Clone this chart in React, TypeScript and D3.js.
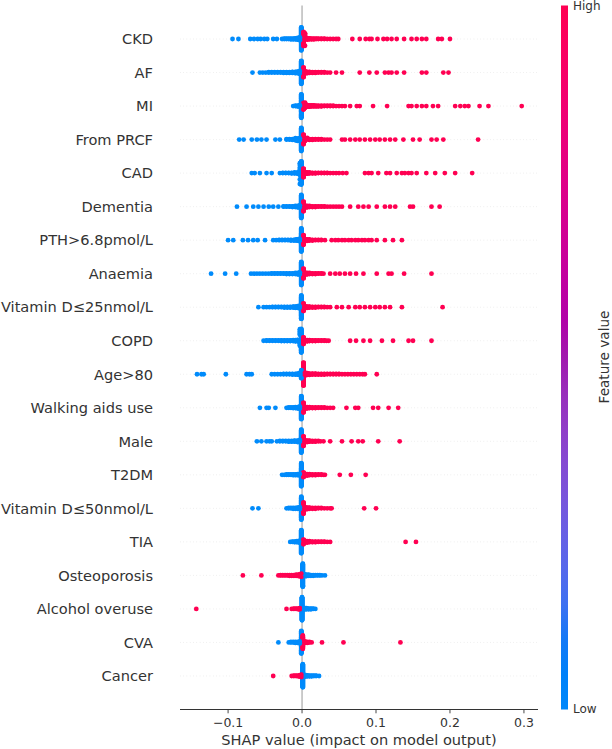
import React from "react";
import * as d3 from "d3";

// SHAP summary (beeswarm) plot: feature order top to bottom
const features = [
  "CKD", "AF", "MI", "From PRCF", "CAD", "Dementia", "PTH>6.8pmol/L", "Anaemia",
  "Vitamin D≤25nmol/L", "COPD", "Age>80", "Walking aids use", "Male", "T2DM",
  "Vitamin D≤50nmol/L", "TIA", "Osteoporosis", "Alcohol overuse", "CVA", "Cancer",
];

// [shap value, number of samples] for low feature value (blue)
const lowPoints: [number, number][][] = [
  [[-0.094,1],[-0.086,1],[-0.070,1],[-0.065,1],[-0.060,1],[-0.056,1],[-0.051,1],[-0.047,1],[-0.039,1],[-0.034,1],[-0.027,1],[-0.024,2],[-0.021,2],[-0.018,2],[-0.015,3],[-0.012,3],[-0.009,4],[-0.006,6],[-0.003,10],[-0.001,70]],
  [[-0.067,1],[-0.057,1],[-0.053,1],[-0.049,1],[-0.045,2],[-0.041,2],[-0.037,2],[-0.033,2],[-0.029,2],[-0.025,3],[-0.021,3],[-0.017,3],[-0.013,4],[-0.009,5],[-0.006,6],[-0.003,10],[-0.001,70]],
  [[-0.012,1],[-0.009,2],[-0.006,3],[-0.003,6],[-0.001,75]],
  [[-0.085,1],[-0.079,1],[-0.068,1],[-0.061,1],[-0.055,1],[-0.048,1],[-0.036,1],[-0.030,1],[-0.021,2],[-0.017,2],[-0.013,3],[-0.009,4],[-0.006,5],[-0.003,8],[-0.001,70]],
  [[-0.068,1],[-0.064,1],[-0.057,1],[-0.048,1],[-0.041,1],[-0.030,1],[-0.026,2],[-0.022,2],[-0.018,2],[-0.014,3],[-0.010,4],[-0.006,5],[-0.003,8],[-0.001,70]],
  [[-0.088,1],[-0.075,1],[-0.066,1],[-0.059,1],[-0.052,1],[-0.045,1],[-0.039,1],[-0.032,1],[-0.025,2],[-0.021,2],[-0.017,2],[-0.013,3],[-0.009,4],[-0.006,5],[-0.003,8],[-0.001,70]],
  [[-0.100,1],[-0.093,1],[-0.080,1],[-0.073,1],[-0.066,1],[-0.060,1],[-0.050,1],[-0.039,1],[-0.035,1],[-0.031,2],[-0.027,2],[-0.023,2],[-0.019,2],[-0.015,3],[-0.011,3],[-0.008,4],[-0.005,6],[-0.003,8],[-0.001,70]],
  [[-0.123,1],[-0.104,1],[-0.089,1],[-0.069,1],[-0.065,1],[-0.061,1],[-0.057,1],[-0.053,1],[-0.049,1],[-0.045,1],[-0.041,2],[-0.037,2],[-0.033,2],[-0.029,2],[-0.025,2],[-0.021,3],[-0.017,3],[-0.013,3],[-0.009,4],[-0.006,5],[-0.003,8],[-0.001,70]],
  [[-0.059,1],[-0.052,1],[-0.048,1],[-0.044,1],[-0.040,2],[-0.036,2],[-0.032,2],[-0.028,2],[-0.024,3],[-0.020,3],[-0.016,3],[-0.012,4],[-0.009,5],[-0.006,6],[-0.003,10],[-0.001,75]],
  [[-0.052,1],[-0.048,2],[-0.044,2],[-0.040,2],[-0.036,2],[-0.032,2],[-0.028,3],[-0.024,3],[-0.020,3],[-0.016,3],[-0.012,4],[-0.009,5],[-0.006,6],[-0.003,10],[-0.001,75]],
  [[-0.142,1],[-0.136,1],[-0.133,1],[-0.103,1],[-0.075,1],[-0.071,1],[-0.068,1],[-0.041,1],[-0.037,1],[-0.033,1],[-0.029,1],[-0.025,2],[-0.021,2],[-0.017,2],[-0.013,3],[-0.009,3],[-0.006,4],[-0.003,6],[-0.001,25]],
  [[-0.057,1],[-0.048,1],[-0.045,1],[-0.036,1],[-0.021,1],[-0.018,2],[-0.015,2],[-0.012,3],[-0.009,4],[-0.006,5],[-0.003,8],[-0.001,70]],
  [[-0.061,1],[-0.055,1],[-0.048,1],[-0.044,1],[-0.041,1],[-0.034,1],[-0.030,2],[-0.026,2],[-0.022,2],[-0.018,3],[-0.014,3],[-0.010,4],[-0.006,5],[-0.003,8],[-0.001,70]],
  [[-0.027,1],[-0.024,1],[-0.021,2],[-0.018,2],[-0.015,2],[-0.012,3],[-0.009,3],[-0.006,4],[-0.003,6],[-0.001,70]],
  [[-0.067,1],[-0.059,1],[-0.021,1],[-0.018,2],[-0.015,2],[-0.012,3],[-0.009,3],[-0.006,4],[-0.003,6],[-0.001,60]],
  [[-0.016,1],[-0.013,2],[-0.010,3],[-0.007,4],[-0.004,6],[-0.001,70]],
  [[0.001,70],[0.003,8],[0.006,5],[0.009,4],[0.012,3],[0.015,3],[0.018,2],[0.021,2],[0.024,2],[0.027,1],[0.031,1]],
  [[0.000,70],[0.003,6],[0.006,4],[0.009,3],[0.012,3],[0.015,2],[0.018,1]],
  [[-0.032,1],[-0.018,1],[-0.015,2],[-0.012,2],[-0.009,3],[-0.006,3],[-0.003,5],[-0.001,50]],
  [[0.001,70],[0.004,6],[0.007,4],[0.010,3],[0.013,3],[0.016,2],[0.019,2],[0.023,1]],
];

// [shap value, number of samples] for high feature value (red)
const highPoints: [number, number][][] = [
  [[0.002,35],[0.004,8],[0.007,5],[0.010,4],[0.013,3],[0.016,3],[0.019,2],[0.022,2],[0.026,2],[0.030,2],[0.034,1],[0.038,1],[0.042,1],[0.046,1],[0.049,1],[0.068,1],[0.078,1],[0.086,1],[0.091,1],[0.094,1],[0.102,1],[0.110,1],[0.115,1],[0.121,1],[0.128,1],[0.138,1],[0.148,1],[0.155,1],[0.162,1],[0.168,1],[0.184,1],[0.189,1],[0.200,1]],
  [[0.002,30],[0.004,8],[0.007,5],[0.010,4],[0.014,3],[0.018,3],[0.022,2],[0.026,2],[0.030,2],[0.034,1],[0.038,1],[0.046,1],[0.054,1],[0.078,1],[0.091,1],[0.101,1],[0.112,1],[0.117,1],[0.121,1],[0.128,1],[0.138,1],[0.162,1],[0.168,1],[0.191,1],[0.198,1]],
  [[0.002,15],[0.004,8],[0.007,6],[0.010,5],[0.013,4],[0.016,4],[0.019,3],[0.022,3],[0.026,3],[0.030,2],[0.034,2],[0.038,2],[0.042,2],[0.046,1],[0.050,1],[0.054,1],[0.058,1],[0.065,1],[0.074,1],[0.078,1],[0.096,1],[0.115,1],[0.144,1],[0.148,1],[0.155,1],[0.162,1],[0.168,1],[0.177,1],[0.184,1],[0.207,1],[0.214,1],[0.220,1],[0.225,1],[0.240,1],[0.252,1],[0.297,1]],
  [[0.002,30],[0.004,6],[0.007,4],[0.010,3],[0.014,3],[0.018,2],[0.022,2],[0.026,2],[0.030,1],[0.034,1],[0.038,1],[0.054,1],[0.058,1],[0.065,1],[0.072,1],[0.078,1],[0.085,1],[0.092,1],[0.099,1],[0.105,1],[0.112,1],[0.119,1],[0.126,1],[0.137,1],[0.150,1],[0.159,1],[0.175,1],[0.182,1],[0.191,1],[0.238,1]],
  [[0.002,30],[0.004,7],[0.007,5],[0.010,4],[0.014,3],[0.018,3],[0.022,2],[0.026,2],[0.030,2],[0.034,2],[0.038,1],[0.042,1],[0.046,1],[0.050,1],[0.055,1],[0.060,1],[0.085,1],[0.090,1],[0.094,1],[0.103,1],[0.114,1],[0.119,1],[0.128,1],[0.135,1],[0.139,1],[0.144,1],[0.148,1],[0.155,1],[0.168,1],[0.180,1],[0.193,1],[0.207,1],[0.230,1]],
  [[0.002,30],[0.004,7],[0.007,5],[0.010,4],[0.014,3],[0.018,3],[0.022,2],[0.026,2],[0.030,2],[0.034,1],[0.038,1],[0.042,1],[0.046,1],[0.050,1],[0.054,1],[0.065,1],[0.076,1],[0.083,1],[0.090,1],[0.101,1],[0.112,1],[0.119,1],[0.126,1],[0.146,1],[0.150,1],[0.175,1],[0.186,1]],
  [[0.002,30],[0.004,7],[0.007,5],[0.010,4],[0.014,3],[0.018,2],[0.022,2],[0.026,2],[0.031,1],[0.040,1],[0.045,1],[0.049,1],[0.054,1],[0.058,1],[0.063,1],[0.067,1],[0.072,1],[0.076,1],[0.081,1],[0.085,1],[0.090,1],[0.094,1],[0.101,1],[0.112,1],[0.123,1],[0.135,1]],
  [[0.002,30],[0.004,7],[0.007,5],[0.010,4],[0.014,3],[0.018,3],[0.022,2],[0.026,2],[0.029,1],[0.038,1],[0.045,1],[0.051,1],[0.058,1],[0.065,1],[0.073,1],[0.083,1],[0.101,1],[0.117,1],[0.121,1],[0.138,1],[0.175,1]],
  [[0.002,25],[0.004,7],[0.007,5],[0.010,4],[0.014,3],[0.018,3],[0.022,2],[0.026,2],[0.030,2],[0.034,1],[0.038,1],[0.047,1],[0.054,1],[0.063,1],[0.072,1],[0.078,1],[0.085,1],[0.092,1],[0.099,1],[0.105,1],[0.112,1],[0.119,1],[0.135,1],[0.190,1]],
  [[0.002,25],[0.004,6],[0.007,5],[0.010,4],[0.014,3],[0.018,3],[0.022,2],[0.026,2],[0.030,2],[0.033,1],[0.036,1],[0.065,1],[0.073,1],[0.083,1],[0.092,1],[0.108,1],[0.123,1],[0.144,1],[0.150,1],[0.175,1]],
  [[0.002,70],[0.004,10],[0.007,6],[0.010,5],[0.014,4],[0.018,4],[0.022,3],[0.026,3],[0.030,3],[0.034,2],[0.038,2],[0.042,2],[0.046,2],[0.050,2],[0.054,1],[0.058,1],[0.062,1],[0.066,1],[0.070,1],[0.074,1],[0.078,1],[0.082,1],[0.085,1],[0.101,1]],
  [[0.002,30],[0.004,7],[0.007,5],[0.010,4],[0.014,3],[0.018,3],[0.022,2],[0.026,2],[0.030,2],[0.034,1],[0.038,1],[0.042,1],[0.060,1],[0.072,1],[0.076,1],[0.096,1],[0.103,1],[0.117,1],[0.130,1]],
  [[0.002,30],[0.004,7],[0.007,5],[0.010,4],[0.014,3],[0.018,3],[0.022,2],[0.025,1],[0.029,1],[0.038,1],[0.054,1],[0.067,1],[0.076,1],[0.082,1],[0.103,1],[0.132,1]],
  [[0.002,15],[0.004,6],[0.007,5],[0.010,4],[0.014,3],[0.018,3],[0.022,2],[0.026,2],[0.029,1],[0.031,1],[0.051,1],[0.066,1],[0.086,1]],
  [[0.002,30],[0.004,7],[0.007,5],[0.010,4],[0.014,3],[0.018,3],[0.022,2],[0.026,2],[0.030,1],[0.034,1],[0.038,1],[0.040,1],[0.084,1],[0.100,1]],
  [[0.002,15],[0.004,6],[0.007,5],[0.010,4],[0.014,3],[0.018,3],[0.022,2],[0.026,2],[0.030,2],[0.034,1],[0.038,1],[0.140,1],[0.154,1]],
  [[-0.080,1],[-0.055,1],[-0.032,1],[-0.029,2],[-0.026,2],[-0.023,2],[-0.020,2],[-0.017,3],[-0.014,3],[-0.011,3],[-0.008,4],[-0.005,5],[-0.003,6],[-0.001,10]],
  [[-0.143,1],[-0.021,1],[-0.014,1],[-0.011,2],[-0.008,2],[-0.005,3],[-0.003,4]],
  [[0.001,30],[0.004,4],[0.007,3],[0.010,2],[0.013,1],[0.027,1],[0.056,1],[0.133,1]],
  [[-0.039,1],[-0.014,1],[-0.011,2],[-0.008,2],[-0.005,3],[-0.003,4],[-0.001,8]],
];

const xTicks = [-0.1, 0.0, 0.1, 0.2, 0.3];

const W = 612;
const H = 749;
const FONT = "DejaVu Sans, sans-serif";
const TXT = "#333333";
const BLUE = "#008bfb";
const RED = "#ff0052";
const R = 2.4;

const x = d3.scaleLinear().domain([-0.165, 0.319]).range([180, 538]);
const y = d3.scaleLinear().domain([-1, features.length]).range([709.5, 5.5]);
const rowPx = y(0) - y(1);

// shap's red_blue colormap (lch with a darker middle)
const cmap = (t: number) => {
  const l = t < 0.5 ? 54 - 14 * (t / 0.5) : 40 + 14 * ((t - 0.5) / 0.5);
  const c = 70 + 20 * t;
  const h0 = 4.6588, h1 = 0.35470565 + 2 * Math.PI;
  const h = ((h0 + (h1 - h0) * t) * 180) / Math.PI;
  return d3.hcl(h % 360, c, l).formatHex();
};

type Pt = { v: number; hi: boolean; key: number; dy: number };

// beeswarm layout like shap: bin by value, stack alternately up/down
function swarm(i: number): Pt[] {
  const pts: Pt[] = [];
  let n = 0;
  const push = (list: [number, number][], hi: boolean) =>
    list.forEach(([v, c]) => {
      for (let k = 0; k < c; k++) {
        pts.push({ v, hi, key: (n * 0.6180339887) % 1, dy: 0 });
        n++;
      }
    });
  push(lowPoints[i], false);
  push(highPoints[i], true);
  const [mn, mx] = d3.extent(pts, (p) => p.v) as [number, number];
  const nbins = 100;
  const quant = (p: Pt) => Math.round((nbins * (p.v - mn)) / (mx - mn));
  const order = pts.slice().sort((a, b) => quant(a) - quant(b) || a.key - b.key);
  let layer = 0;
  let last = -1;
  let maxY = 0;
  order.forEach((p) => {
    const q = quant(p);
    if (q !== last) layer = 0;
    p.dy = Math.ceil(layer / 2) * ((layer % 2) * 2 - 1);
    layer++;
    last = q;
    maxY = Math.max(maxY, p.dy);
  });
  const s = 0.9 * (0.4 / (maxY + 1));
  pts.forEach((p) => (p.dy *= s));
  return pts.sort((a, b) => a.key - b.key);
}

const rows = features.map((_, i) => swarm(i));
const stops = d3.range(0, 1.0001, 0.05);

export default function App() {
  const axisY = y(-1);
  return (
    <svg
      width={W}
      height={H}
      viewBox={`0 0 ${W} ${H}`}
      style={{ position: "absolute", left: 0, top: 0, background: "white" }}
      fontFamily={FONT}
    >
      <defs>
        <linearGradient id="cb" x1="0" y1="1" x2="0" y2="0">
          {stops.map((t) => (
            <stop key={t} offset={t} stopColor={cmap(t)} />
          ))}
        </linearGradient>
      </defs>

      {/* row guide lines */}
      {features.map((f, i) => {
        const yy = y(features.length - 1 - i);
        return (
          <line
            key={f}
            x1={180}
            x2={538}
            y1={yy}
            y2={yy}
            stroke="#cccccc"
            strokeWidth={0.55}
            strokeDasharray="0.55 2.75"
          />
        );
      })}
      <line x1={x(0)} x2={x(0)} y1={y(features.length)} y2={axisY} stroke="#999999" strokeWidth={1} />

      {rows.map((pts, i) => {
        const yy = y(features.length - 1 - i);
        return (
          <g key={i}>
            {pts.map((p, k) => (
              <circle key={k} cx={x(p.v)} cy={yy - p.dy * rowPx} r={R} fill={p.hi ? RED : BLUE} />
            ))}
          </g>
        );
      })}

      {/* feature labels */}
      {features.map((f, i) => (
        <text
          key={f}
          x={153}
          y={y(features.length - 1 - i)}
          dy="0.36em"
          textAnchor="end"
          fontSize={14.6}
          fill={TXT}
        >
          {f}
        </text>
      ))}

      {/* x axis */}
      <line x1={180} x2={538} y1={axisY} y2={axisY} stroke={TXT} strokeWidth={1} />
      {xTicks.map((t) => (
        <g key={t} transform={`translate(${x(t)},${axisY})`}>
          <line y1={0} y2={3.8} stroke={TXT} strokeWidth={0.9} />
          <text y={17.5} textAnchor="middle" fontSize={12.5} fill={TXT}>
            {d3.format(".1f")(t)}
          </text>
        </g>
      ))}
      <text x={359} y={745} textAnchor="middle" fontSize={14.6} fill={TXT}>
        SHAP value (impact on model output)
      </text>

      {/* colour bar */}
      <rect x={561} y={y(features.length)} width={7} height={axisY - y(features.length)} fill="url(#cb)" />
      <text x={573} y={6} dy="0.36em" fontSize={12} fill={TXT}>
        High
      </text>
      <text x={573} y={709} dy="0.36em" fontSize={12} fill={TXT}>
        Low
      </text>
      <text
        transform={`translate(609,357) rotate(-90)`}
        textAnchor="middle"
        fontSize={13.6}
        fill={TXT}
      >
        Feature value
      </text>
    </svg>
  );
}
